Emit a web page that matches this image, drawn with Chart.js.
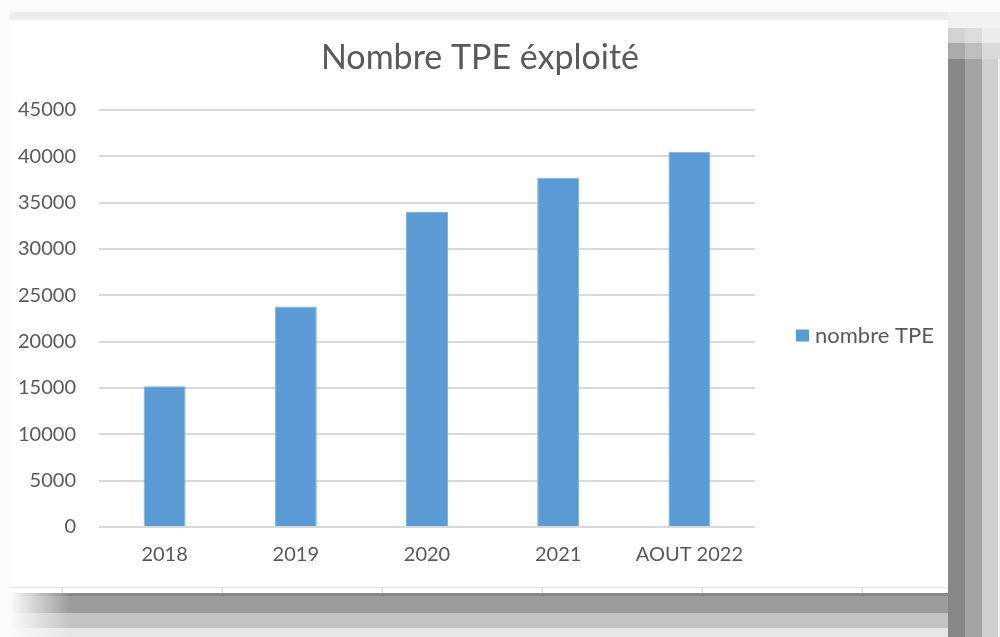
<!DOCTYPE html>
<html>
<head>
<meta charset="utf-8">
<script src="https://cdn.jsdelivr.net/npm/chart.js@4"></script>
<style>
    html, body { margin: 0; padding: 0; }
    body { width: 1000px; height: 637px; background: #fbfbfb; position: relative; overflow: hidden; font-family: Lato, sans-serif; }
    .sh { position: absolute; }
    #box { position: absolute; left: 10px; top: 20px; width: 938px; height: 573px; background: #fff; }
    #box canvas { display: block; }
    .tick { position: absolute; top: 588px; width: 1px; height: 5px; background: #dcdcdc; }
</style>
</head>
<body>
<!-- shadow frame around the chart -->
<div class="sh" style="left:10px;top:12px;width:938px;height:8px;background:#ececec"></div>
<div class="sh" style="left:948px;top:12px;width:52px;height:625px;background:linear-gradient(to right,#888 0,#888 17px,#a4a4a4 17px,#a4a4a4 34px,#cfcfcf 34px,#cfcfcf 50px,#f0f0f0 50px)"></div>
<div class="sh" style="left:948px;top:12px;width:52px;height:16px;background:#f2f2f2"></div>
<div class="sh" style="left:948px;top:28px;width:52px;height:15px;background:linear-gradient(to right,#d2d2d2 0,#d2d2d2 17px,#dcdcdc 17px,#dcdcdc 34px,#ececec 34px)"></div>
<div class="sh" style="left:948px;top:43px;width:52px;height:16px;background:linear-gradient(to right,#aaa 0,#aaa 17px,#bebebe 17px,#bebebe 34px,#dadada 34px)"></div>
<div class="sh" style="left:10px;top:593px;width:938px;height:44px;background:linear-gradient(to bottom,#888 0,#888 3px,#9c9c9c 3px,#9c9c9c 20px,#c4c4c4 20px,#c4c4c4 35px,#e6e6e6 35px)"></div>
<div class="sh" style="left:10px;top:593px;width:60px;height:44px;background:linear-gradient(to right,#fbfbfb,rgba(251,251,251,0))"></div>
<div id="box"><canvas id="chart1" width="938" height="573"></canvas></div>
<div class="sh" style="left:10px;top:587px;width:938px;height:1px;background:#e2e2e2"></div>
<div class="tick" style="left:62px"></div>
<div class="tick" style="left:222px"></div>
<div class="tick" style="left:382px"></div>
<div class="tick" style="left:542px"></div>
<div class="tick" style="left:702px"></div>
<div class="tick" style="left:862px"></div>
<script>
var labels = ['2018', '2019', '2020', '2021', 'AOUT 2022'];
var nombreTPE = [15200, 23800, 34000, 37700, 40500];
var seriesName = 'nombre TPE';
var titleText = 'Nombre TPE éxploité';

var textColor = '#595959';
var barColor = '#5b9bd5';

// title and legend drawn by hand (title centred on the whole box, legend right of the plot)
var titleAndLegend = {
    id: 'titleAndLegend',
    afterDraw: function (chart) {
        var ctx = chart.ctx;
        var area = chart.chartArea;
        var ds = chart.data.datasets[0];
        ctx.save();
        ctx.fillStyle = textColor;
        ctx.font = '34px Lato';
        ctx.textAlign = 'center';
        ctx.textBaseline = 'middle';
        ctx.fillText(titleText, chart.width / 2 + 1, 38);

        var x = area.right + 41;
        var y = (area.top + area.bottom) / 2 + 17;
        ctx.fillStyle = ds.backgroundColor;
        ctx.fillRect(x, y - 6, 13, 12);
        ctx.fillStyle = textColor;
        ctx.font = '22px Lato';
        ctx.textAlign = 'left';
        ctx.fillText(ds.label, x + 19, y);
        ctx.restore();
    }
};

function drawChart() {
    var el = document.getElementById('chart1').getContext('2d');
    var config = {
        type: 'bar',
        data: {
            labels: labels,
            datasets: [{
                label: seriesName,
                data: nombreTPE,
                backgroundColor: barColor,
                borderColor: '#7fb2e0',
                borderWidth: 1,
                barPercentage: 0.32,
                categoryPercentage: 1
            }]
        },
        options: {
            responsive: false,
            animation: false,
            layout: { padding: { left: 0, right: 193, top: 90, bottom: 10 } },
            plugins: {
                legend: { display: false },
                tooltip: { enabled: false },
                title: { display: false }
            },
            scales: {
                x: {
                    grid: { display: false, drawTicks: false },
                    border: { display: false },
                    ticks: { color: textColor, font: { family: 'Lato', size: 20 }, padding: 16, maxRotation: 0 }
                },
                y: {
                    min: 0,
                    max: 45000,
                    afterFit: function (scale) { scale.width = 89; },
                    grid: { color: '#d9d9d9', lineWidth: 2, drawTicks: false },
                    border: { display: false },
                    ticks: {
                        stepSize: 5000,
                        color: textColor,
                        font: { family: 'Lato', size: 20 },
                        padding: 23,
                        callback: function (v) { return String(v); }
                    }
                }
            }
        },
        plugins: [titleAndLegend]
    };
    new Chart(el, config);
}
drawChart();
</script>
</body>
</html>
